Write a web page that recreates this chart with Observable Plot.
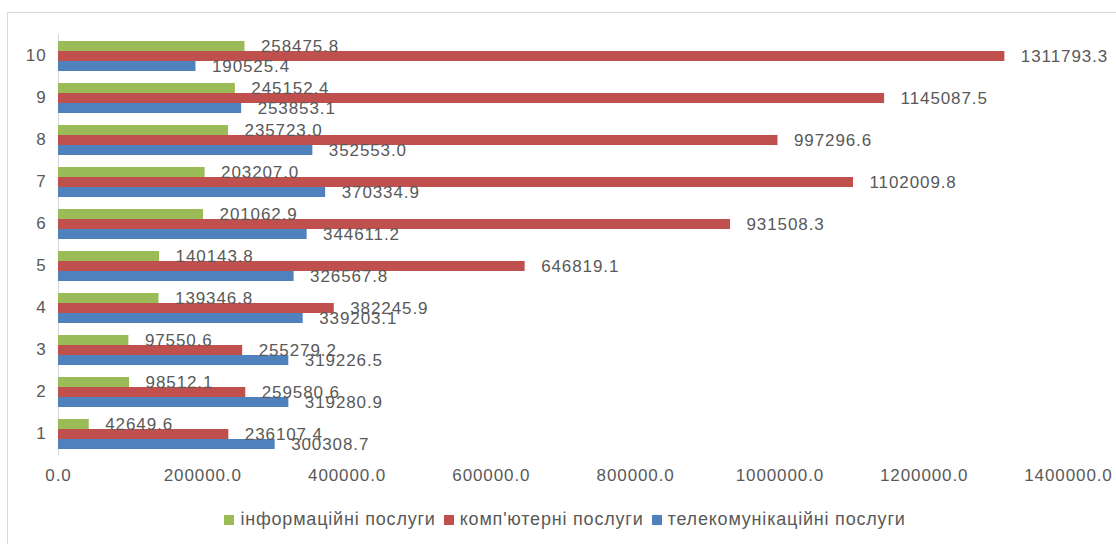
<!DOCTYPE html>
<html>
<head>
<meta charset="utf-8">
<script src="https://cdn.jsdelivr.net/npm/d3@7"></script>
<script src="https://cdn.jsdelivr.net/npm/@observablehq/plot@0.6"></script>
<style>
  html, body { margin: 0; padding: 0; background: #fff; }
  body { width: 1116px; height: 544px; position: relative; overflow: hidden; font-family: "Liberation Sans", Arial, sans-serif; }
  #frame { position: absolute; left: 7px; top: 12px; width: 1120px; height: 540px; border: 1px solid #d9d9d9; pointer-events: none; }
  #chart { position: absolute; left: 0; top: 0; }
  #chart svg text { letter-spacing: 0.9px; }
  #legend { position: absolute; left: 0; top: 509px; width: 1130px; display: flex; justify-content: center; gap: 8px; font-size: 18px; letter-spacing: 0.8px; color: #595959; }
  #legend .item { display: flex; align-items: center; gap: 6px; }
  #legend .sw { width: 10px; height: 10px; display: inline-block; }
</style>
</head>
<body>
<div id="frame"></div>
<div id="chart"></div>
<div id="legend"></div>
<script>
const categories = ["1","2","3","4","5","6","7","8","9","10"];
const seriesNames = ["інформаційні послуги", "комп'ютерні послуги", "телекомунікаційні послуги"];
const seriesColors = ["#9bbb59", "#c0504d", "#4f81bd"];
const infoValues = [42649.6, 98512.1, 97550.6, 139346.8, 140143.8, 201062.9, 203207.0, 235723.0, 245152.4, 258475.8];
const compValues = [236107.4, 259580.6, 255279.2, 382245.9, 646819.1, 931508.3, 1102009.8, 997296.6, 1145087.5, 1311793.3];
const telecomValues = [300308.7, 319280.9, 319226.5, 339203.1, 326567.8, 344611.2, 370334.9, 352553.0, 253853.1, 190525.4];
const xTicks = [0, 200000, 400000, 600000, 800000, 1000000, 1200000, 1400000];

const seriesValues = [infoValues, compValues, telecomValues];
const data = [];
categories.forEach((c, i) => {
  seriesNames.forEach((s, j) => {
    data.push({cat: c, series: s, value: seriesValues[j][i]});
  });
});

const textColor = "#595959";

const chart = Plot.plot({
  width: 1116,
  height: 500,
  marginLeft: 58,
  marginRight: 48,
  marginTop: 35,
  marginBottom: 45,
  style: {fontFamily: "'Liberation Sans', Arial, sans-serif", fontSize: "17px", color: textColor, background: "transparent"},
  x: {domain: [0, 1400000], axis: null, label: null},
  y: {domain: seriesNames, axis: null, padding: 0.03, label: null},
  fy: {domain: categories.slice().reverse(), paddingInner: 0.21, paddingOuter: 0.105, axis: null, label: null},
  color: {domain: seriesNames, range: seriesColors},
  facet: {data: data, y: "cat"},
  marks: [
    Plot.ruleX([0], {stroke: "#d9d9d9", strokeWidth: 1.2, insetTop: -5, insetBottom: -5}),
    Plot.barX(data, {x: "value", y: "series", fill: "series"}),
    Plot.text(data, {x: "value", y: "series", text: d => d.value.toFixed(1), textAnchor: "start", dx: 16, fill: textColor, fontSize: 17}),
    Plot.axisFy({anchor: "left", label: null, tickSize: 0, tickPadding: 12, fontSize: 17, color: textColor}),
    Plot.axisX({ticks: xTicks, label: null, tickFormat: d => d.toFixed(1), tickSize: 0, tickPadding: 18, fontSize: 17, color: textColor})
  ]
});
document.getElementById("chart").appendChild(chart);

const legend = document.getElementById("legend");
seriesNames.forEach((s, j) => {
  const item = document.createElement("span");
  item.className = "item";
  const sw = document.createElement("span");
  sw.className = "sw";
  sw.style.background = seriesColors[j];
  const t = document.createElement("span");
  t.textContent = s;
  item.appendChild(sw);
  item.appendChild(t);
  legend.appendChild(item);
});
</script>
</body>
</html>
